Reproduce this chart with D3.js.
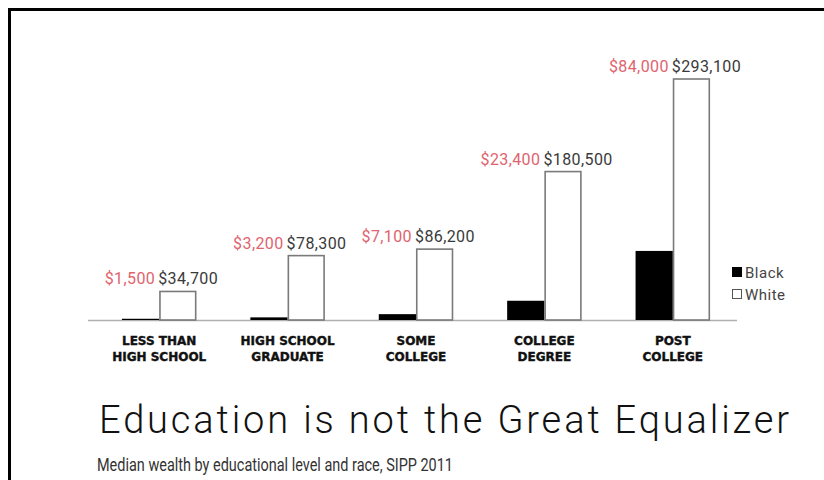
<!DOCTYPE html>
<html>
<head>
<meta charset="utf-8">
<script src="https://cdn.jsdelivr.net/npm/d3@7"></script>
<style>
  html, body { margin: 0; padding: 0; background: #fff; }
  svg { display: block; }
</style>
</head>
<body>
<svg id="chart" width="824" height="480"></svg>
<script>
const categories = [
  ["LESS THAN", "HIGH SCHOOL"],
  ["HIGH SCHOOL", "GRADUATE"],
  ["SOME", "COLLEGE"],
  ["COLLEGE", "DEGREE"],
  ["POST", "COLLEGE"]
];
const blackValues = [1500, 3200, 7100, 23400, 84000];
const whiteValues = [34700, 78300, 86200, 180500, 293100];
const seriesNames = ["Black", "White"];
const titleText = "Education is not the Great Equalizer";
const subtitleText = "Median wealth by educational level and race, SIPP 2011";

const svg = d3.select("#chart");
const W = 824, H = 480;

// frame (top and left border)
svg.append("rect").attr("x", 8).attr("y", 8).attr("width", W - 8).attr("height", 3).attr("fill", "#000");
svg.append("rect").attr("x", 8).attr("y", 8).attr("width", 3).attr("height", H - 8).attr("fill", "#000");

const baseY = 320;
const x = d3.scaleBand()
  .domain(d3.range(categories.length))
  .range([95, 737])
  .paddingInner(0.42)
  .paddingOuter(0.21);
const x1 = d3.scaleBand().domain(seriesNames).range([0, x.bandwidth()]).padding(0);
const y = d3.scaleLinear().domain([0, 293100]).range([baseY, 79]);

const data = categories.map((c, i) => ({ i, cat: c, black: blackValues[i], white: whiteValues[i] }));

// axis line
svg.append("line")
  .attr("x1", 88).attr("x2", 737)
  .attr("y1", baseY + 0.5).attr("y2", baseY + 0.5)
  .attr("stroke", "#b0b0b0").attr("stroke-width", 1.5);

const g = svg.append("g");
const groups = g.selectAll("g.grp").data(data).join("g")
  .attr("class", "grp")
  .attr("transform", d => `translate(${x(d.i)},0)`);

// black bars
groups.append("rect")
  .attr("x", x1("Black"))
  .attr("width", x1.bandwidth())
  .attr("y", d => y(d.black))
  .attr("height", d => baseY - y(d.black))
  .attr("fill", "#000");

// white bars
groups.append("rect")
  .attr("x", x1("White") + 0.75)
  .attr("width", x1.bandwidth() - 1.5)
  .attr("y", d => y(d.white))
  .attr("height", d => baseY - y(d.white))
  .attr("fill", "#fff")
  .attr("stroke", "#7a7a7a")
  .attr("stroke-width", 1.6);

const fmt = d3.format("$,");
const labelFont = "Roboto, 'DejaVu Sans', sans-serif";

groups.append("text")
  .attr("x", x1("White") - 4)
  .attr("y", d => y(d.white) - 7)
  .attr("text-anchor", "end")
  .attr("font-family", labelFont)
  .attr("font-size", 16)
  .attr("letter-spacing", 0.4)
  .attr("fill", "#e0636e")
  .text(d => fmt(d.black));

groups.append("text")
  .attr("x", x1("White") - 1)
  .attr("y", d => y(d.white) - 7)
  .attr("text-anchor", "start")
  .attr("font-family", labelFont)
  .attr("font-size", 16)
  .attr("letter-spacing", 0.4)
  .attr("fill", "#3a3a3a")
  .text(d => fmt(d.white));

// category labels
const catText = groups.append("text")
  .attr("text-anchor", "middle")
  .attr("font-family", "'DejaVu Sans', sans-serif")
  .attr("font-weight", "bold")
  .attr("font-size", 12)
  .attr("fill", "#111")
  .attr("stroke", "#111")
  .attr("stroke-width", 0.4);
catText.selectAll("tspan").data(d => d.cat.map(t => ({ t, cx: x.bandwidth() / 2 }))).join("tspan")
  .attr("x", d => d.cx)
  .attr("y", (d, j) => 345 + j * 15.5)
  .text(d => d.t);

// legend
const legend = svg.append("g").attr("transform", "translate(732,267)");
seriesNames.forEach((s, j) => {
  legend.append("rect")
    .attr("x", s === "White" ? 0.5 : 0).attr("y", j * 22 + (s === "White" ? 0.5 : 0))
    .attr("width", s === "White" ? 9 : 10).attr("height", s === "White" ? 9 : 10)
    .attr("fill", s === "Black" ? "#000" : "#fff")
    .attr("stroke", s === "Black" ? "none" : "#555")
    .attr("stroke-width", 1);
  legend.append("text")
    .attr("x", 13).attr("y", j * 22 + 10.5)
    .attr("font-family", labelFont)
    .attr("font-size", 15)
    .attr("letter-spacing", 0.5)
    .attr("fill", "#444")
    .text(s);
});

// title & subtitle
svg.append("text")
  .attr("x", 99).attr("y", 433)
  .attr("font-family", "Roboto, sans-serif")
  .attr("font-weight", 300)
  .attr("font-size", 38)
  .attr("fill", "#111")
  .attr("textLength", 690)
  .attr("lengthAdjust", "spacing")
  .text(titleText);

svg.append("text")
  .attr("x", 97).attr("y", 471)
  .attr("font-family", "Roboto, sans-serif")
  .attr("font-size", 17.5)
  .attr("fill", "#333")
  .attr("textLength", 356)
  .attr("lengthAdjust", "spacingAndGlyphs")
  .text(subtitleText);
</script>
</body>
</html>
